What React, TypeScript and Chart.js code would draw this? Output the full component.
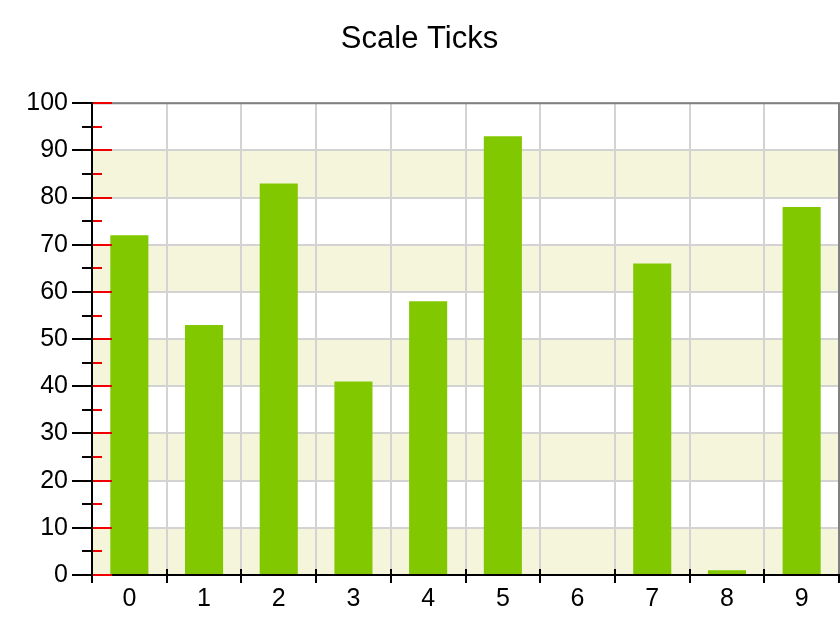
import React, { useEffect, useRef } from 'react';
import { Chart, registerables } from 'chart.js';

Chart.register(...registerables);

const titleText = 'Scale Ticks';
const categories = ['0', '1', '2', '3', '4', '5', '6', '7', '8', '9'];
const values = [72, 53, 83, 41, 58, 93, 0, 66, 1, 78];
const yMin = 0;
const yMax = 100;
const yStep = 10;
const bandRanges: [number, number][] = [[0, 10], [20, 30], [40, 50], [60, 70], [80, 90]];
const minorTickValues = [5, 15, 25, 35, 45, 55, 65, 75, 85, 95];
const majorTickValues = [0, 10, 20, 30, 40, 50, 60, 70, 80, 90, 100];

const FONT = "'Liberation Sans', Arial, sans-serif";
const BAR = '#82c800';
const BAND = '#f5f5dc';
const GRID = '#d3d3d3';
const FRAME = '#808080';

const decorPlugin = {
  id: 'decor',
  beforeDraw(chart: any) {
    const { ctx, chartArea } = chart;
    const y = chart.scales.y;
    ctx.save();
    ctx.fillStyle = '#ffffff';
    ctx.fillRect(0, 0, chart.width, chart.height);
    ctx.fillStyle = BAND;
    for (const [a, b] of bandRanges) {
      const y0 = y.getPixelForValue(a);
      const y1 = y.getPixelForValue(b);
      ctx.fillRect(chartArea.left, y1, chartArea.right - chartArea.left, y0 - y1);
    }
    ctx.restore();
  },
  afterDatasetsDraw(chart: any) {
    const { ctx, chartArea } = chart;
    const { left, right, top, bottom } = chartArea;
    const x = chart.scales.x;
    const y = chart.scales.y;
    ctx.save();
    ctx.lineWidth = 2;
    ctx.strokeStyle = FRAME;
    ctx.beginPath();
    ctx.moveTo(left, top);
    ctx.lineTo(right, top);
    ctx.lineTo(right, bottom);
    ctx.stroke();
    ctx.strokeStyle = '#000000';
    ctx.beginPath();
    ctx.moveTo(left, top - 1);
    ctx.lineTo(left, bottom + 8);
    ctx.moveTo(left, bottom);
    ctx.lineTo(right + 1, bottom);
    ctx.stroke();
    ctx.beginPath();
    for (const v of minorTickValues) {
      const py = Math.round(y.getPixelForValue(v));
      ctx.moveTo(left - 10, py);
      ctx.lineTo(left, py);
    }
    ctx.stroke();
    ctx.beginPath();
    for (let i = 1; i < categories.length; i++) {
      const px = Math.round((x.getPixelForValue(i - 1) + x.getPixelForValue(i)) / 2);
      ctx.moveTo(px, bottom - 6);
      ctx.lineTo(px, bottom);
    }
    ctx.stroke();
    ctx.strokeStyle = '#ee0000';
    ctx.beginPath();
    for (const v of majorTickValues) {
      const py = Math.round(y.getPixelForValue(v));
      ctx.moveTo(left + 1, py);
      ctx.lineTo(left + 20, py);
    }
    for (const v of minorTickValues) {
      const py = Math.round(y.getPixelForValue(v));
      ctx.moveTo(left + 1, py);
      ctx.lineTo(left + 10, py);
    }
    ctx.stroke();
    ctx.restore();
  },
};

export default function App() {
  const ref = useRef<HTMLCanvasElement | null>(null);
  useEffect(() => {
    document.body.style.margin = '0';
    const canvas = ref.current;
    if (!canvas) return;
    const chart = new Chart(canvas, {
      type: 'bar',
      data: {
        labels: categories,
        datasets: [
          {
            data: values,
            backgroundColor: BAR,
            borderWidth: 0,
            barPercentage: 0.51,
            categoryPercentage: 1,
          },
        ],
      },
      options: {
        animation: false,
        responsive: false,
        devicePixelRatio: 1,
        layout: { padding: { left: 0, right: 1, top: 0, bottom: 25 } },
        plugins: {
          legend: { display: false },
          tooltip: { enabled: false },
          title: {
            display: true,
            text: titleText,
            color: '#000000',
            font: { family: FONT, size: 31, weight: 'normal' },
            padding: { top: 21, bottom: 45 },
          },
        },
        scales: {
          x: {
            type: 'category',
            offset: true,
            grid: {
              offset: true,
              color: GRID,
              lineWidth: 2,
              tickColor: '#000000',
              tickWidth: 2,
              tickLength: 8,
            },
            border: { display: true, color: '#000000', width: 2 },
            ticks: {
              color: '#000000',
              font: { family: FONT, size: 25 },
              padding: 1,
              maxRotation: 0,
            },
          },
          y: {
            min: yMin,
            max: yMax,
            afterFit: (scale: any) => {
              scale.width = 92;
            },
            ticks: {
              stepSize: yStep,
              color: '#000000',
              font: { family: FONT, size: 25 },
              padding: 4,
            },
            grid: {
              color: GRID,
              lineWidth: 2,
              tickColor: '#000000',
              tickWidth: 2,
              tickLength: 20,
            },
            border: { display: true, color: '#000000', width: 2 },
          },
        },
      },
      plugins: [decorPlugin],
    });
    return () => chart.destroy();
  }, []);
  return <canvas ref={ref} width={840} height={640} style={{ display: 'block' }} />;
}
